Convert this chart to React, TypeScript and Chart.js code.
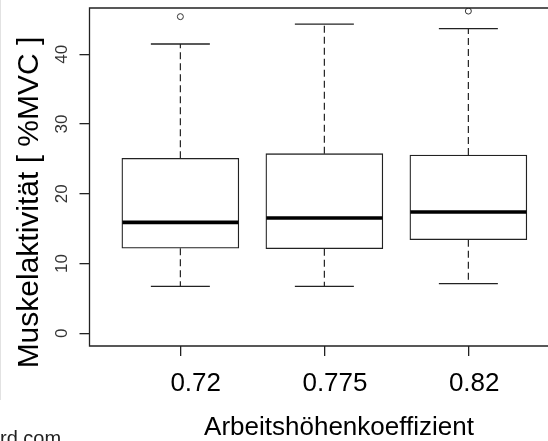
import React, { useEffect, useRef } from "react";
import { Chart, registerables } from "chart.js";

Chart.register(...registerables);

// ---- data ----
const categories = ["0.72", "0.775", "0.82"];
const whiskerLow = [6.74, 6.74, 7.11];
const q1 = [12.19, 12.13, 13.42];
const medians = [15.91, 16.53, 17.39];
const q3 = [25.09, 25.75, 25.56];
const whiskerHigh = [41.48, 44.34, 43.67];
const outliers: number[][] = [[45.4], [], [46.2]];
const yTicks = [0, 10, 20, 30, 40];
const yTitle = "Muskelaktivität [ %MVC ]";
const xTitle = "Arbeitshöhenkoeffizient";
const watermark = "rd.com";

const Y_MIN = -1.82;
const Y_MAX = 46.64;
const X_MIN = 0.369;
const X_MAX = 3.553;

const FONT = '"Liberation Sans", Arial, Helvetica, sans-serif';
const INK = "#222";

export default function App() {
  const ref = useRef<HTMLCanvasElement>(null);

  useEffect(() => {
    if (!ref.current) return;
    const xs = categories.map((_, i) => i + 1);

    const whiskerData: any[] = [];
    xs.forEach((x, i) => {
      whiskerData.push(
        { x, y: q3[i] },
        { x, y: whiskerHigh[i] },
        { x, y: null },
        { x, y: q1[i] },
        { x, y: whiskerLow[i] },
        { x, y: null }
      );
    });
    const outlierData: any[] = [];
    outliers.forEach((arr, i) => arr.forEach((v) => outlierData.push({ x: i + 1, y: v })));

    const textPlugin = {
      id: "rtext",
      afterDraw(chart: any) {
        const { ctx, chartArea: a, scales } = chart;
        ctx.save();
        // faint page edge
        ctx.strokeStyle = "#e2e2e2";
        ctx.lineWidth = 1;
        ctx.beginPath();
        ctx.moveTo(0.5, 0);
        ctx.lineTo(0.5, 400);
        ctx.stroke();

        // plot frame (right side lies outside the picture)
        ctx.strokeStyle = INK;
        ctx.lineWidth = 1.3;
        ctx.beginPath();
        ctx.moveTo(a.right + 2, a.top);
        ctx.lineTo(a.left, a.top);
        ctx.lineTo(a.left, a.bottom);
        ctx.lineTo(a.right + 2, a.bottom);
        ctx.stroke();

        // y tick labels (rotated like R's las=0)
        ctx.fillStyle = "#333";
        ctx.font = `17px ${FONT}`;
        ctx.textAlign = "center";
        ctx.textBaseline = "alphabetic";
        scales.y.ticks.forEach((t: any) => {
          const py = scales.y.getPixelForValue(t.value);
          ctx.save();
          ctx.translate(66.5, py);
          ctx.rotate(-Math.PI / 2);
          ctx.fillText(String(t.value), 0, 0);
          ctx.restore();
        });

        // y title
        ctx.fillStyle = "#000";
        ctx.font = `30px ${FONT}`;
        ctx.save();
        ctx.translate(37.5, 202.5);
        ctx.rotate(-Math.PI / 2);
        ctx.fillText(yTitle, 0, 0);
        ctx.restore();

        // x tick labels
        ctx.font = `26px ${FONT}`;
        scales.x.ticks.forEach((t: any) => {
          const px = scales.x.getPixelForValue(t.value);
          const label = categories[Math.round(t.value) - 1];
          ctx.fillText(label, px * 0.967 + 21.3, 391.3);
        });

        // x title
        ctx.fillText(xTitle, 339, 434.8);

        // watermark fragment
        ctx.font = `20px ${FONT}`;
        ctx.fillStyle = INK;
        ctx.textAlign = "left";
        ctx.fillText(watermark, 0, 444.5);
        ctx.restore();
      },
    };

    const chart = new Chart(ref.current, {
      type: "bar",
      data: {
        datasets: [
          {
            type: "scatter",
            label: "median",
            data: xs.map((x, i) => ({ x, y: medians[i] })),
            pointStyle: "line",
            pointRadius: 58,
            pointBorderWidth: 3.6,
            pointBorderColor: "#000",
            borderColor: "#000",
            order: 0,
          } as any,
          {
            type: "scatter",
            label: "caps",
            data: [
              ...xs.map((x, i) => ({ x, y: whiskerHigh[i] })),
              ...xs.map((x, i) => ({ x, y: whiskerLow[i] })),
            ],
            pointStyle: "line",
            pointRadius: 29.5,
            pointBorderWidth: 1.3,
            pointBorderColor: INK,
            borderColor: INK,
            order: 1,
          } as any,
          {
            type: "scatter",
            label: "outliers",
            data: outlierData,
            pointStyle: "circle",
            pointRadius: 3,
            pointBorderWidth: 1,
            pointBorderColor: "#333",
            pointBackgroundColor: "rgba(0,0,0,0)",
            clip: 0,
            order: 1,
          } as any,
          {
            type: "bar",
            label: "box",
            data: xs.map((x, i) => ({ x, y: [q1[i], q3[i]] })),
            backgroundColor: "#fff",
            borderColor: INK,
            borderWidth: 1.3,
            borderSkipped: false,
            barThickness: 117,
            order: 2,
          } as any,
          {
            type: "line",
            label: "whiskers",
            data: whiskerData,
            borderColor: INK,
            borderWidth: 1.2,
            borderDash: [7, 4],
            pointRadius: 0,
            spanGaps: false,
            fill: false,
            order: 3,
          } as any,
        ],
      },
      options: {
        animation: false,
        responsive: false,
        devicePixelRatio: 1,
        events: [],
        layout: { autoPadding: false, padding: { top: 8, left: 0, right: 0, bottom: 0 } },
        plugins: {
          legend: { display: false },
          tooltip: { enabled: false },
          title: { display: false },
        },
        scales: {
          x: {
            type: "linear",
            min: X_MIN,
            max: X_MAX,
            offset: false,
            afterBuildTicks: (s: any) => {
              s.ticks = categories.map((_, i) => ({ value: i + 1 }));
            },
            afterFit: (s: any) => {
              s.height = 95;
            },
            grid: {
              offset: false,
              drawOnChartArea: false,
              drawTicks: true,
              tickLength: 10,
              color: INK,
              lineWidth: 1.3,
            },
            border: { display: false },
            ticks: { display: false },
          },
          y: {
            type: "linear",
            min: Y_MIN,
            max: Y_MAX,
            afterBuildTicks: (s: any) => {
              s.ticks = yTicks.map((v) => ({ value: v }));
            },
            afterFit: (s: any) => {
              s.width = 89.5;
            },
            grid: {
              drawOnChartArea: false,
              drawTicks: true,
              tickLength: 10,
              color: INK,
              lineWidth: 1.3,
            },
            border: { display: false },
            ticks: { display: false },
          },
        },
      } as any,
      plugins: [textPlugin],
    });

    return () => chart.destroy();
  }, []);

  return (
    <div
      style={{
        position: "fixed",
        left: 0,
        top: 0,
        width: 548,
        height: 441,
        overflow: "hidden",
        background: "#fff",
      }}
    >
      <canvas ref={ref} width={548} height={441} style={{ display: "block" }} />
    </div>
  );
}
